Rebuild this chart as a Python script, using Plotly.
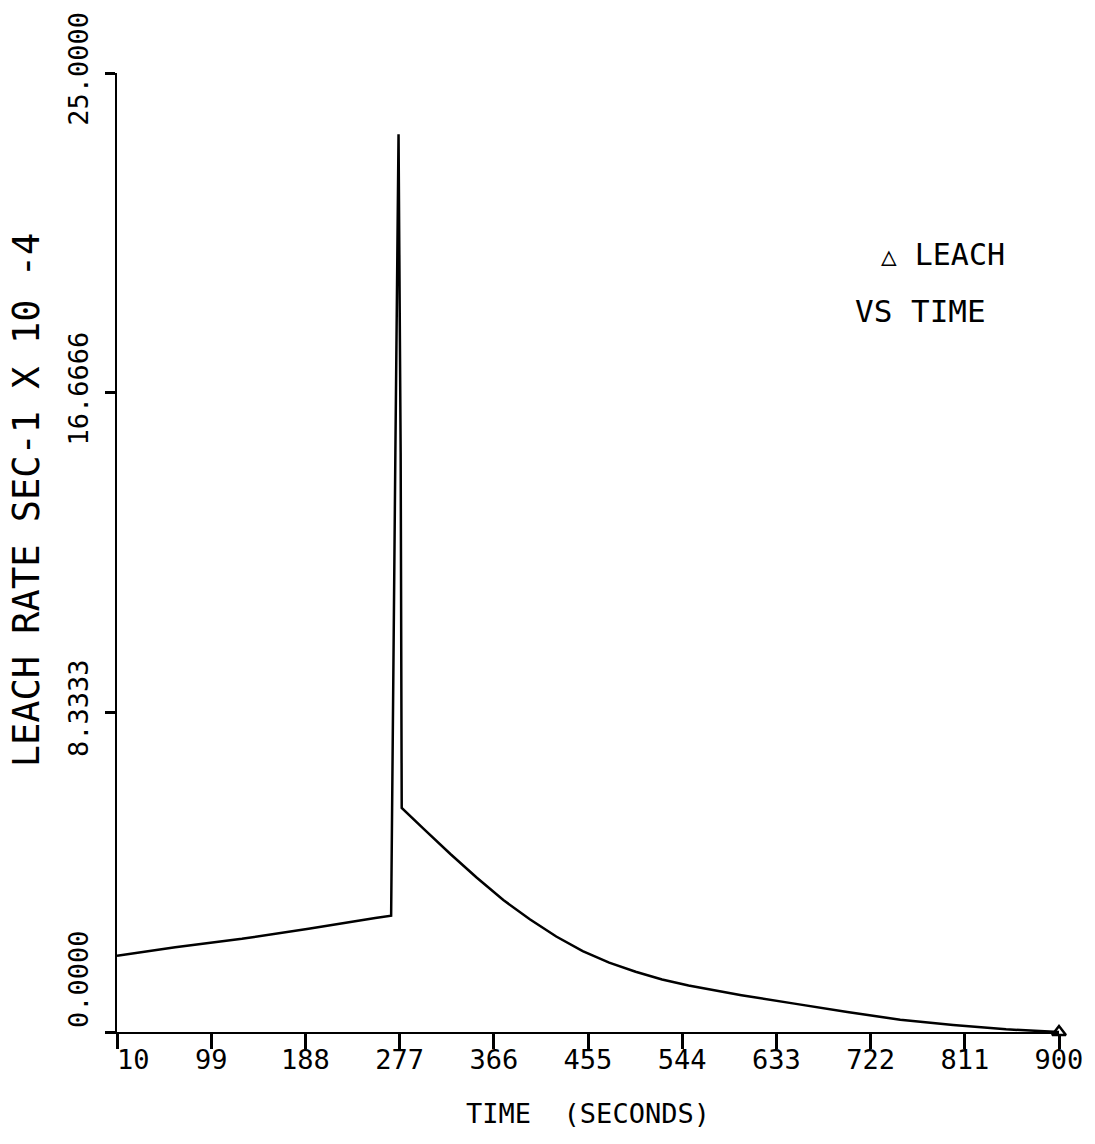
import plotly.graph_objects as go

# Data (time in seconds, leach rate in 1e-4 sec^-1)
time_s = [10, 65, 128, 191, 254, 269, 273, 276, 278, 279,
          300, 325, 350, 375, 400, 425, 450, 475, 500, 525, 550, 575, 600,
          650, 700, 750, 800, 850, 900]
leach_rate = [1.99, 2.21, 2.43, 2.69, 2.97, 3.03, 15.1, 23.4, 15.1, 5.84,
              5.29, 4.64, 4.02, 3.44, 2.94, 2.49, 2.11, 1.81, 1.57, 1.37, 1.21,
              1.08, 0.96, 0.74, 0.52, 0.32, 0.18, 0.07, 0.0]

NB = "\u00a0"
x_ticks = [10, 99, 188, 277, 366, 455, 544, 633, 722, 811, 900]
x_tick_text = [NB * 2 + "10", "99", "188", "277", "366", "455", "544",
               "633", "722", "811", "900"]
y_ticks = [0, 8.3333, 16.6666, 25.0]
y_tick_text = [NB * 6 + "0.0000", "8.3333", "16.6666", "25.0000"]

FONT = "DejaVu Sans Mono"

fig = go.Figure()
fig.add_trace(go.Scatter(
    x=time_s, y=leach_rate, mode="lines",
    line=dict(color="black", width=2.5), showlegend=False,
))
fig.add_trace(go.Scatter(
    x=[time_s[-1]], y=[leach_rate[-1]], mode="markers",
    marker=dict(symbol="triangle-up-open", size=12, color="black",
                line=dict(width=2.5, color="black")),
    cliponaxis=False, showlegend=False,
))

fig.update_layout(
    width=1095, height=1144,
    margin=dict(l=117, r=32, t=68, b=112),
    paper_bgcolor="white", plot_bgcolor="white",
    font=dict(family=FONT, color="black", size=28),
    xaxis=dict(
        range=[10, 900], tickvals=x_ticks, ticktext=x_tick_text,
        showgrid=False, zeroline=False, showline=True, linecolor="black",
        linewidth=2, ticks="outside", ticklen=15, tickwidth=3, tickcolor="black",
        tickfont=dict(family=FONT, size=27), ticklabelstandoff=-12,
        title=dict(text="TIME  (SECONDS)", font=dict(family=FONT, size=27), standoff=30),
    ),
    yaxis=dict(
        range=[0, 25], tickvals=y_ticks, ticktext=y_tick_text, tickangle=-90,
        showgrid=False, zeroline=False, showline=True, linecolor="black",
        linewidth=2, ticks="outside", ticklen=10, tickwidth=3, tickcolor="black",
        tickfont=dict(family=FONT, size=27), ticklabelstandoff=6,
    ),
    annotations=[
        dict(text="LEACH RATE SEC-1 X 10 -4", xref="paper", yref="paper",
             x=-0.096, y=0.555, xanchor="center", yanchor="middle", textangle=-90,
             showarrow=False, font=dict(family=FONT, size=37)),
        dict(text="<b><span style='font-size:26px'>△</span></b> LEACH", xref="paper", yref="paper",
             x=0.945, y=0.811, xanchor="right", yanchor="middle",
             showarrow=False, font=dict(family=FONT, size=30)),
        dict(text="VS TIME", xref="paper", yref="paper",
             x=0.925, y=0.752, xanchor="right", yanchor="middle",
             showarrow=False, font=dict(family=FONT, size=31)),
    ],
)

fig.write_html("out.html")
